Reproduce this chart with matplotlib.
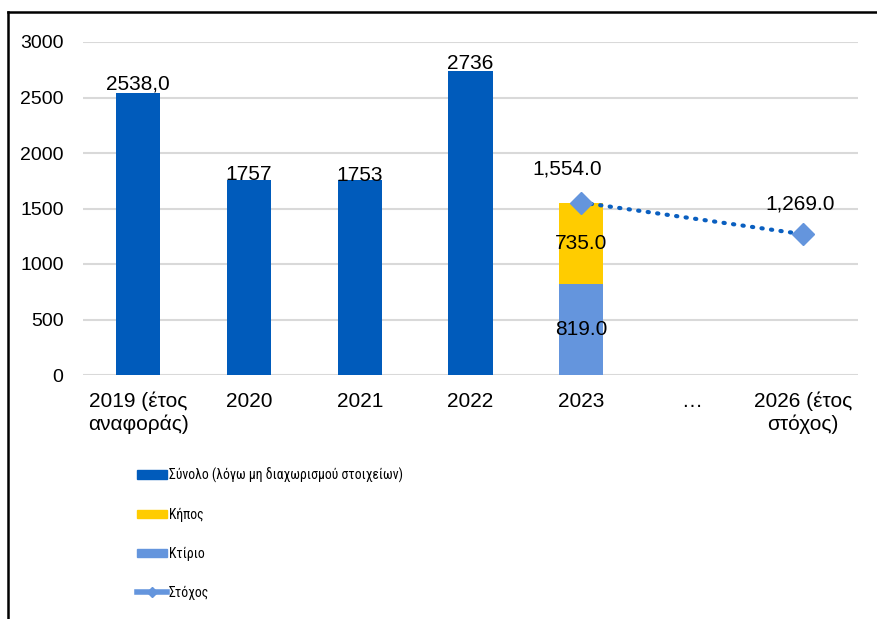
import matplotlib
matplotlib.use("Agg")
import matplotlib.pyplot as plt
from matplotlib.lines import Line2D
from matplotlib.patches import Patch
from matplotlib import font_manager
import numpy as np

plt.rcParams['font.family'] = ['Liberation Sans', 'DejaVu Sans']

categories = ["2019 (έτος\nαναφοράς)", "2020", "2021", "2022", "2023", "…", "2026 (έτος\nστόχος)"]
total = [2538.0, 1757, 1753, 2736, None, None, None]
total_labels = ["2538,0", "1757", "1753", "2736"]
building_2023 = 819.0
garden_2023 = 735.0
target_idx = [4, 6]
target_vals = [1554.0, 1269.0]
target_labels = ["1,554.0", "1,269.0"]
legend_labels = ["Σύνολο (λόγω μη διαχωρισμού στοιχείων)", "Κήπος", "Κτίριο", "Στόχος"]

c_total = "#005BBB"
c_garden = "#FFCC00"
c_building = "#6495DD"
c_line = "#0A5FC0"

# the legend text in the reference is condensed; use a narrow face if one exists
leg_prop = font_manager.FontProperties(family=["Liberation Sans", "DejaVu Sans"], size=11)
prefs = ["Liberation Sans Narrow", "Roboto Condensed", "DejaVu Sans"]
for want in prefs:
    found = [f for f in font_manager.fontManager.ttflist
             if f.name == want and f.style == "normal" and f.weight in (400, "normal")
             and (want != "DejaVu Sans" or str(f.stretch) in ("condensed", "semi-condensed"))]
    if found:
        leg_prop = font_manager.FontProperties(fname=found[0].fname, size=11)
        break

W, H = 878, 619
fig = plt.figure(figsize=(W / 100, H / 100), dpi=100)

# fit the legend size so the long entry is about as wide as in the reference
renderer = fig.canvas.get_renderer()
probe = fig.text(0, 0, legend_labels[0], fontproperties=leg_prop)
wpx = probe.get_window_extent(renderer).width
probe.remove()
leg_size = min(12.0, 11 * 235 / wpx)
leg_prop.set_size(leg_size)
fpx = leg_size * 100 / 72

ax = fig.add_axes([83 / W, 1 - 375 / H, (858 - 83) / W, 333 / H])

x = np.arange(len(categories))
bw = 0.4

# total bars
label_off = [0, -3, -3, -1]
for i, v in enumerate(total):
    if v is None:
        continue
    ax.bar(i, v, bw, color=c_total, zorder=2)
    ax.annotate(total_labels[i], (i, v), xytext=(0, label_off[i]),
                textcoords="offset points", ha="center", va="bottom", fontsize=15)

# stacked 2023
ax.bar(4, building_2023, bw, color=c_building, zorder=2)
ax.bar(4, garden_2023, bw, bottom=building_2023, color=c_garden, zorder=2)
ax.text(4, building_2023 / 2, f"{building_2023:.1f}", ha="center", va="center", fontsize=15)
ax.text(4, building_2023 + garden_2023 / 2, f"{garden_2023:.1f}", ha="center", va="center", fontsize=15)

# target line
ax.plot(target_idx, target_vals, color=c_line, lw=3, ls=(0, (0.3, 2.0)),
        dash_capstyle="round", zorder=3)
ax.plot(target_idx, target_vals, ls="none", marker="D", ms=11, color=c_building, zorder=4)
offsets = [(-10, 17), (-2, 15)]
for xi, v, lab, off in zip(target_idx, target_vals, target_labels, offsets):
    ax.annotate(lab, (xi, v), xytext=off, textcoords="offset points",
                ha="center", va="bottom", fontsize=15)

ax.set_xlim(-0.5, len(categories) - 0.5)
ax.set_ylim(0, 3000)
ax.set_yticks(range(0, 3001, 500))
ax.set_xticks(x)
ax.set_xticklabels(categories, fontsize=15, linespacing=1.2)
ax.tick_params(axis="y", labelsize=14, length=0, pad=14)
ax.tick_params(axis="x", length=0, pad=12)
ax.yaxis.grid(True, color="#D9D9D9", lw=1.5, zorder=0)
ax.set_axisbelow(True)
for s in ax.spines.values():
    s.set_visible(False)

handles = [
    Patch(color=c_total),
    Patch(color=c_garden),
    Patch(color=c_building),
    Line2D([0], [0], color=c_building, lw=4, marker="D", ms=5),
]
fig.legend(handles, legend_labels, loc="upper left", bbox_to_anchor=(131 / W, 1 - 462 / H),
           frameon=False, prop=leg_prop,
           handlelength=30 / fpx, handleheight=0.6,
           handletextpad=0.15, labelspacing=(40 - 1.1 * fpx) / fpx,
           borderaxespad=0)

# outer border (top and left)
fig.add_artist(Line2D([8 / W, 1], [1 - 12 / H, 1 - 12 / H], color="black", lw=1.8))
fig.add_artist(Line2D([8 / W, 8 / W], [0, 1 - 12 / H], color="black", lw=1.8))

fig.savefig("out.png", dpi=100)
